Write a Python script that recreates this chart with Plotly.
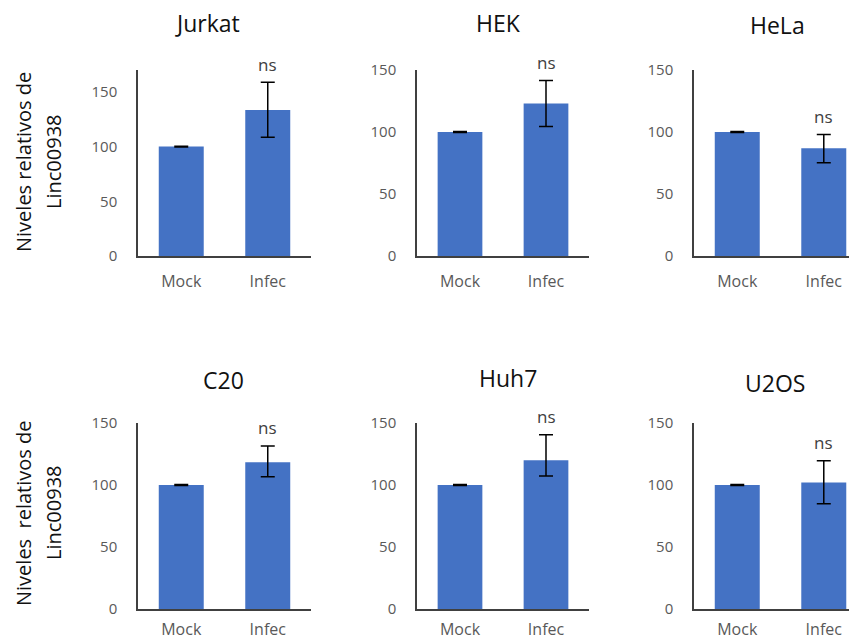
import plotly.graph_objects as go

# ---- data ----
cell_lines = ["Jurkat", "HEK", "HeLa", "C20", "Huh7", "U2OS"]
conditions = ["Mock", "Infec"]
mock_values = [100, 100, 100, 100, 100, 100]
mock_err = [0.4, 0.4, 0.4, 0.4, 0.4, 0.4]
infec_values = [133.5, 123, 86.8, 118.3, 120, 102]
infec_err_plus = [25.3, 18.5, 11.2, 13.2, 20.5, 17.5]
infec_err_minus = [25.0, 18.6, 11.5, 11.6, 12.8, 17.2]
sig_labels = ["ns", "ns", "ns", "ns", "ns", "ns"]
y_max = [170, 150, 150, 150, 150, 150]
y_ticks = [0, 50, 100, 150]
y_title_lines = [["Niveles relativos de", "Linc00938"],
                 ["Niveles\u00a0 relativos de", "Linc00938"]]

# page body has an 8px margin; the figure is sized/offset to compensate
OFF = 8
W, H = 857 - OFF, 642 - OFF
FONT = "'Open Sans', sans-serif"
BAR = "#4472C4"
AX = "#404040"
TICK = "#595959"

def px(x):
    return (x - OFF) / W

def py(y):
    return 1 - (y - OFF) / H

# panel geometry in reference pixels (left, right) and (top, bottom)
col_px = [(138, 311), (417, 589), (694, 857)]
row_px = [(70, 256), (423, 609)]
x_label_standoff = [10, 5]
x_ranges = [[-0.5, 1.5], [-0.5, 1.5], [-0.5, 1.384]]
title_pos = [(207, 23), (498, 23), (777, 25), (223, 380), (508, 378), (775, 383)]

fig = go.Figure()
layout = dict(
    width=W, height=H,
    margin=dict(l=0, r=0, t=0, b=0, autoexpand=False),
    paper_bgcolor="white", plot_bgcolor="white",
    showlegend=False,
    bargap=0.48,
    font=dict(family=FONT, color=TICK, size=15),
)
annotations = []

for i, name in enumerate(cell_lines):
    r, c = divmod(i, 3)
    k = "" if i == 0 else str(i + 1)
    xa, ya = "x" + k, "y" + k
    fig.add_trace(go.Bar(
        x=conditions,
        y=[mock_values[i], infec_values[i]],
        marker=dict(color=BAR, line=dict(width=0)),
        error_y=dict(type="data", symmetric=False,
                     array=[mock_err[i], infec_err_plus[i]],
                     arrayminus=[mock_err[i], infec_err_minus[i]],
                     color="black", thickness=1.5, width=7),
        xaxis=xa, yaxis=ya, hoverinfo="skip",
    ))
    l, rr = col_px[c]
    t, b = row_px[r]
    layout["xaxis" + k] = dict(
        domain=[px(l), min(1, px(rr))], anchor=ya, range=x_ranges[c],
        automargin=False,
        showline=True, linecolor=AX, linewidth=1.5, showgrid=False,
        zeroline=False, ticks="", ticklabelstandoff=x_label_standoff[r],
        tickfont=dict(size=16, color=TICK, family=FONT), fixedrange=True,
    )
    layout["yaxis" + k] = dict(
        domain=[py(b), py(t)], anchor=xa, range=[0, y_max[i]],
        automargin=False,
        tickvals=y_ticks, showline=True, linecolor=AX, linewidth=1.5,
        showgrid=False, zeroline=False, ticks="", ticklabelstandoff=16,
        tickfont=dict(size=15, color=TICK, family=FONT), fixedrange=True,
    )
    # significance label above the Infec error bar
    annotations.append(dict(
        xref=xa, yref=ya, x=conditions[1],
        y=infec_values[i] + infec_err_plus[i],
        text=sig_labels[i], showarrow=False, yanchor="middle", yshift=18,
        font=dict(size=17, color=AX, family=FONT),
    ))
    # panel title
    tx, ty = title_pos[i]
    annotations.append(dict(
        xref="paper", yref="paper", x=px(tx), y=py(ty),
        text=name, showarrow=False, xanchor="center", yanchor="middle",
        font=dict(size=23, color="#111111", family=FONT),
    ))

# y-axis titles (left column, two lines each)
row_label_center = [162, 513]
for r in range(2):
    for j, line in enumerate(y_title_lines[r]):
        annotations.append(dict(
            xref="paper", yref="paper", x=px(23 + 30 * j), y=py(row_label_center[r]),
            text=line, showarrow=False, textangle=-90,
            xanchor="center", yanchor="middle",
            font=dict(size=20, color="#111111", family=FONT),
        ))

layout["annotations"] = annotations
fig.update_layout(**layout)
fig.write_html("out.html")
